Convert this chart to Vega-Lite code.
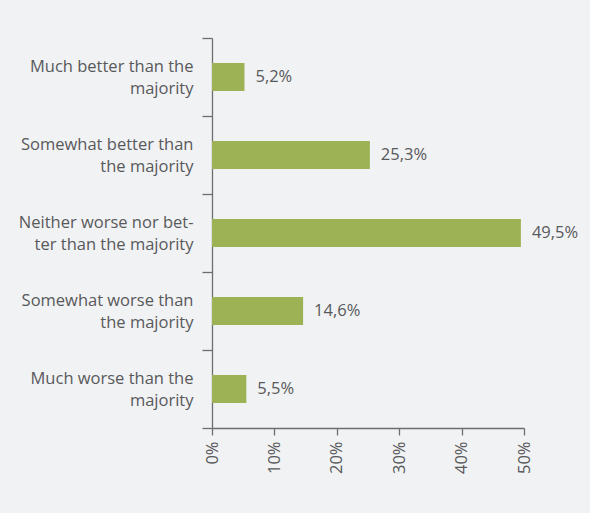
{
  "$schema": "https://vega.github.io/schema/vega-lite/v6.json",
  "autosize": {"type": "none"},
  "width": 312,
  "height": 390,
  "padding": {"left": 212, "top": 38, "right": 66, "bottom": 85},
  "background": "#f1f2f4",
  "config": {
    "view": {"stroke": null},
    "font": "Open Sans",
    "locale": {"number": {"decimal": ",", "thousands": ".", "grouping": [3], "currency": ["", " €"]}}
  },
  "data": {
    "values": [
      {"category": "Much better than the majority", "share": 0.052},
      {"category": "Somewhat better than the majority", "share": 0.253},
      {"category": "Neither worse nor better than the majority", "share": 0.495},
      {"category": "Somewhat worse than the majority", "share": 0.146},
      {"category": "Much worse than the majority", "share": 0.055}
    ]
  },
  "encoding": {
    "y": {
      "field": "category",
      "type": "nominal",
      "sort": null,
      "title": null,
      "scale": {"paddingInner": 0, "paddingOuter": 0},
      "axis": {
        "tickBand": "extent",
        "tickSize": 10,
        "tickColor": "#6d6e71",
        "tickWidth": 1.3,
        "domainColor": "#6d6e71",
        "domainWidth": 1.3,
        "labelFontSize": 16.5,
        "labelColor": "#58595b",
        "labelPadding": 9,
        "labelLineHeight": 22,
        "labelOffset": -11,
        "labelLimit": 300,
        "labelExpr": "datum.value == 'Much better than the majority' ? ['Much better than the', 'majority'] : datum.value == 'Somewhat better than the majority' ? ['Somewhat better than', 'the majority'] : datum.value == 'Neither worse nor better than the majority' ? ['Neither worse nor bet-', 'ter than the majority'] : datum.value == 'Somewhat worse than the majority' ? ['Somewhat worse than', 'the majority'] : datum.value == 'Much worse than the majority' ? ['Much worse than the', 'majority'] : ''"
      }
    }
  },
  "layer": [
    {
      "mark": {"type": "bar", "color": "#9db255", "height": {"band": 0.36}},
      "encoding": {
        "x": {
          "field": "share",
          "type": "quantitative",
          "title": null,
          "scale": {"domain": [0, 0.5], "nice": false},
          "axis": {
            "format": ".0%",
            "values": [0, 0.1, 0.2, 0.3, 0.4, 0.5],
            "grid": false,
            "labelAngle": -90,
            "tickSize": 7,
            "tickColor": "#6d6e71",
            "tickWidth": 1.3,
            "domainColor": "#6d6e71",
            "domainWidth": 1.3,
            "labelFontSize": 16.5,
            "labelColor": "#58595b",
            "labelPadding": 6
          }
        }
      }
    },
    {
      "mark": {"type": "text", "align": "left", "dx": 11, "fontSize": 16.5, "color": "#58595b"},
      "encoding": {
        "x": {"field": "share", "type": "quantitative"},
        "text": {"field": "share", "type": "quantitative", "format": ".1%"}
      }
    }
  ]
}
